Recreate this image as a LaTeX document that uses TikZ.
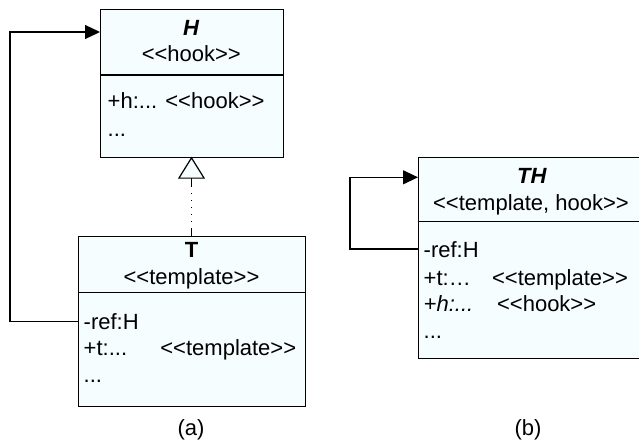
\documentclass[tikz,border=0pt]{standalone}
\usepackage{fontspec}
\setmainfont{Liberation Sans}[Ligatures=TeXOff]
\usetikzlibrary{arrows.meta}
\definecolor{boxfill}{RGB}{246,253,254}
\tikzset{
  umlbox/.style={draw=black, line width=0.6pt, fill=boxfill, anchor=north west, inner sep=0pt},
  divider/.style={draw=black, line width=0.6pt},
  txt/.style={inner sep=0pt, font=\fontsize{11}{13}\selectfont},
  lw/.style={txt, anchor=base west},
  lc/.style={txt, anchor=base},
  assoc/.style={draw=black, line width=0.6pt, -{Triangle[length=7.5pt,width=7pt]}},
  gen/.style={draw=black, line width=0.6pt, -{Triangle[open,length=11pt,width=13.5pt,fill=boxfill]},
    dash pattern={on 4pt off 3pt on 0.5pt off 3pt on 0.5pt off 3pt on 0.5pt off 3pt on 0.5pt off 3pt on 0.5pt off 3pt on 10pt}}
}
\begin{document}
\begin{tikzpicture}[x=0.5pt,y=-0.5pt]
\useasboundingbox (0,0) rectangle (639,446);
\clip (0,0) rectangle (639,446);
% H box
\node (H) [umlbox, minimum width=91.35pt, minimum height=73.85pt] at (100,9) {};
\draw[divider] (H.west |- 0,75) -- (H.east |- 0,75);
\node (Ht) [lc] at (191.3,35) {\textbf{\textit{H}}};
\node (Hs) [lc] at (191.3,61.7) {<<hook>>};
\node (Ha1) [lw] at (107.3,108.3) {+h:... <<hook>>};
\node (Ha2) [lw] at (107.3,136.7) {...};
% T box
\node (T) [umlbox, minimum width=113.5pt, minimum height=85pt] at (78,235.7) {};
\draw[divider] (T.west |- 0,292.3) -- (T.east |- 0,292.3);
\node (Tt) [lc] at (191.5,257.7) {\textbf{T}};
\node (Ts) [lc] at (191.5,284.3) {<<template>>};
\node (Ta1) [lw] at (83.3,329.3) {-ref:H};
\node (Ta2) [lw] at (83.3,355) {+t:...};
\node (Ta2b) [lw] at (160,355) {<<template>>};
\node (Ta3) [lw] at (83.3,382.3) {...};
\node (La) [txt] at (191,430) {(a)};
% TH box
\node (TH) [umlbox, minimum width=114pt, minimum height=100.65pt] at (418,156.7) {};
\draw[divider] (TH.west |- 0,221.7) -- (TH.east |- 0,221.7);
\node (THt) [lc] at (532,183.3) {\textbf{\textit{TH}}};
\node (THs) [lc] at (531,210) {<<template, hook>>};
\node (THa1) [lw] at (423.3,257.3) {-ref:H};
\node (THa2) [lw] at (423.3,285) {+t:…};
\node (THa2b) [lw] at (491.7,285) {<<template>>};
\node (THa3) [lw] at (423.3,311.7) {\textit{+h:...}};
\node (THa3b) [lw] at (496.7,311.7) {<<hook>>};
\node (THa4) [lw] at (423.3,338.3) {...};
\node (Lb) [txt] at (528,430) {(b)};
% connectors
\coordinate (Tref) at (78,321.7);
\coordinate (Hin) at (100,32);
\draw[assoc] (Tref) -- ++(-68,0) |- (Hin);
\coordinate (THref) at (418,249);
\coordinate (THin) at (418,177.3);
\draw[assoc] (THref) -- ++(-68,0) |- (THin);
\coordinate (Ttop) at (191.5,235.7);
\coordinate (Hbot) at (191.5,156.7);
\draw[gen] (Ttop) -- (Hbot);
\end{tikzpicture}
\end{document}
